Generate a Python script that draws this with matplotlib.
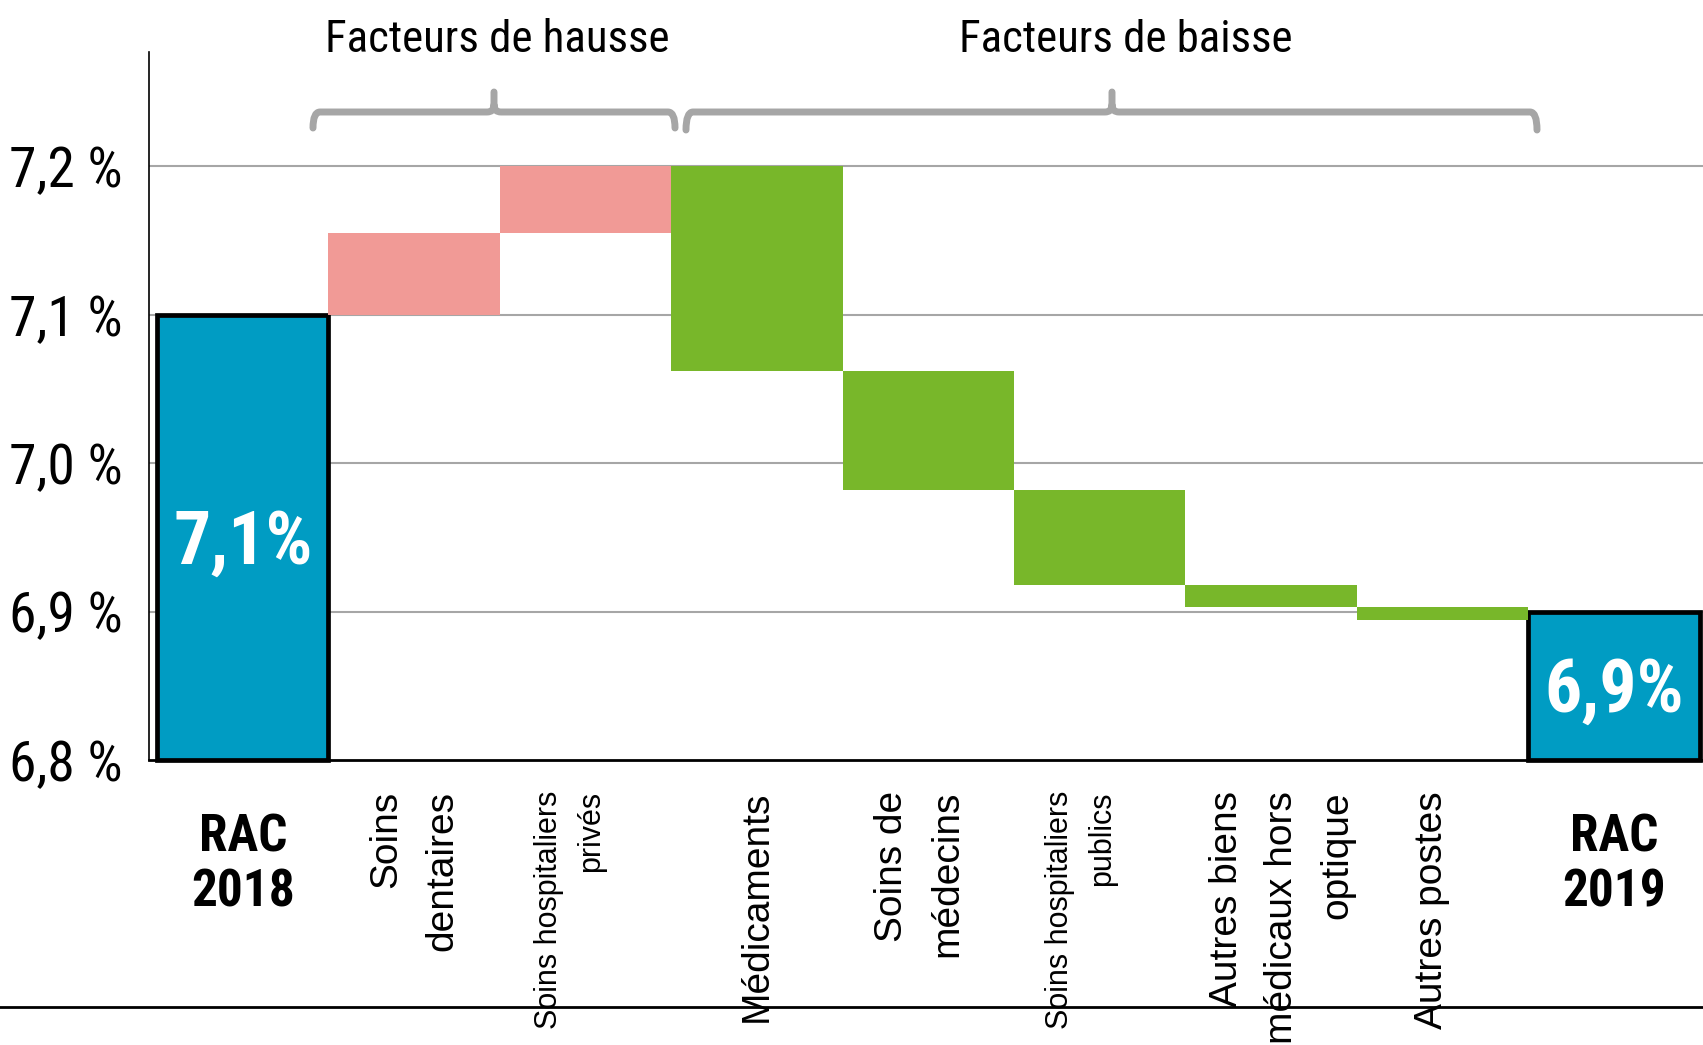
import matplotlib
matplotlib.use("Agg")
import matplotlib.pyplot as plt
import matplotlib.transforms as mtransforms
from matplotlib import font_manager
from matplotlib.path import Path
from matplotlib.patches import PathPatch
import numpy as np

# ---------------- data ----------------
categories = ["RAC\n2018", "Soins\ndentaires", "Soins hospitaliers\nprivés", "Médicaments",
              "Soins de\nmédecins", "Soins hospitaliers\npublics",
              "Autres biens\nmédicaux hors\noptique", "Autres postes", "RAC\n2019"]
rac_2018 = 7.1
rac_2019 = 6.9
variations = [0.055, 0.045, -0.138, -0.080, -0.064, -0.015, -0.009]
y_ticks = [6.8, 6.9, 7.0, 7.1, 7.2]
y_tick_labels = ["6,8 %", "6,9 %", "7,0 %", "7,1 %", "7,2 %"]
groups = ["Facteurs de hausse", "Facteurs de baisse"]
small_labels = {"Soins hospitaliers\nprivés", "Soins hospitaliers\npublics"}

# label position nudges (layout only)
label_nudge = {"Soins hospitaliers\nprivés": -0.09, "Soins de\nmédecins": -0.05,
               "Soins hospitaliers\npublics": -0.11,
               "Autres biens\nmédicaux hors\noptique": 0.065, "Autres postes": -0.06}

# ---------------- style ----------------
BLUE = "#009CC3"
PINK = "#F19A96"
GREEN = "#78B72A"
GRAY = "#A6A6A6"

names = {f.name for f in font_manager.fontManager.ttflist}
if "Liberation Sans Narrow" in names:
    NARROW = "Liberation Sans Narrow"
    sz_tick, sz_group, sz_rac, sz_val = 37, 34, 37, 52
elif "Roboto Condensed" in names:
    NARROW = "Roboto Condensed"
    sz_tick, sz_group, sz_rac, sz_val = 40, 32.3, 37, 53
else:
    NARROW = "Liberation Sans"
    sz_tick, sz_group, sz_rac, sz_val = 32, 29, 31, 44
REG = "Liberation Sans"

W, H = 1703, 1045
fig = plt.figure(figsize=(W / 100, H / 100), dpi=100)
ax = fig.add_axes([149 / W, 1 - 760 / H, 1 - 149 / W, (760 - 52) / H])

ymin, ymax = 6.8, 7.277
ax.set_ylim(ymin, ymax)
ax.set_xlim(-0.547, 8.52)

x = np.arange(len(categories))
levels = rac_2018 + np.cumsum(variations)
starts = np.concatenate([[rac_2018], levels[:-1]])

# totals
for xi, val in [(x[0], rac_2018), (x[-1], rac_2019)]:
    ax.bar(xi, val - ymin, bottom=ymin, width=1.0, color=BLUE,
           edgecolor="black", linewidth=3.4, zorder=3, clip_on=False)
    ax.text(xi, (val + ymin) / 2 - 0.004, f"{val:.1f}".replace(".", ",") + "%",
            ha="center", va="center", color="white", fontsize=sz_val,
            fontweight="bold", family=NARROW, zorder=4)

# variations
for xi, s, e, v in zip(x[1:-1], starts, levels, variations):
    ax.bar(xi, abs(v), bottom=min(s, e), width=1.0,
           color=PINK if v > 0 else GREEN, linewidth=0, zorder=3)

# grid / axes
for yt in y_ticks[1:]:
    ax.axhline(yt, color=GRAY, lw=1.5, zorder=1)
ax.set_yticks(y_ticks)
ax.set_yticklabels(y_tick_labels, family=NARROW, fontsize=sz_tick)
ax.tick_params(axis="y", length=0, pad=19)
ax.set_xticks([])
for sp in ["top", "right"]:
    ax.spines[sp].set_visible(False)
ax.spines["left"].set_linewidth(1.2)
ax.spines["bottom"].set_linewidth(2)
ax.spines["bottom"].set_zorder(5)

# overlay in pixel coordinates for decorations
ov = fig.add_axes([0, 0, 1, 1], zorder=10)
ov.set_xlim(0, W)
ov.set_ylim(H, 0)
ov.axis("off")
ov.patch.set_alpha(0)

# bottom separator line
ov.plot([0, W], [1007, 1007], color="black", lw=2)


def bracket(x1, x2, xc, yl, yb, yt, r=7):
    verts = [(x1, yb), (x1, yl), (x1 + r, yl), (xc - r, yl), (xc, yl), (xc, yl - r), (xc, yt),
             (xc, yl - r), (xc, yl), (xc + r, yl), (x2 - r, yl), (x2, yl), (x2, yb)]
    codes = [Path.MOVETO, Path.CURVE3, Path.CURVE3, Path.LINETO, Path.CURVE3, Path.CURVE3,
             Path.LINETO, Path.MOVETO, Path.CURVE3, Path.CURVE3, Path.LINETO,
             Path.CURVE3, Path.CURVE3]
    ov.add_patch(PathPatch(Path(verts, codes), fill=False, edgecolor=GRAY, lw=5,
                           capstyle="round", joinstyle="round"))


bracket(313, 675, 494, 112, 128, 92)
bracket(686, 1537, 1112, 112, 130, 92)

ov.text(497, 52, groups[0], ha="center", va="baseline", family=NARROW,
        fontsize=sz_group)
ov.text(1126, 52, groups[1], ha="center", va="baseline", family=NARROW,
        fontsize=sz_group)

# category labels
trans = mtransforms.blended_transform_factory(ax.transData, ov.transData)
for xi, lab in zip(x, categories):
    if lab.startswith("RAC"):
        ax.text(xi, 812, lab, transform=trans, ha="center", va="top",
                family=NARROW, fontweight="bold", fontsize=sz_rac,
                linespacing=1.15, clip_on=False)
    else:
        small = lab in small_labels
        ax.text(xi + label_nudge.get(lab, 0.0), 791, lab, transform=trans,
                ha="center", va="top", rotation=90, multialignment="right",
                family=REG, fontsize=22 if small else 28,
                linespacing=1.55 if small else 1.7, clip_on=False)

fig.savefig("out.png", dpi=100)
